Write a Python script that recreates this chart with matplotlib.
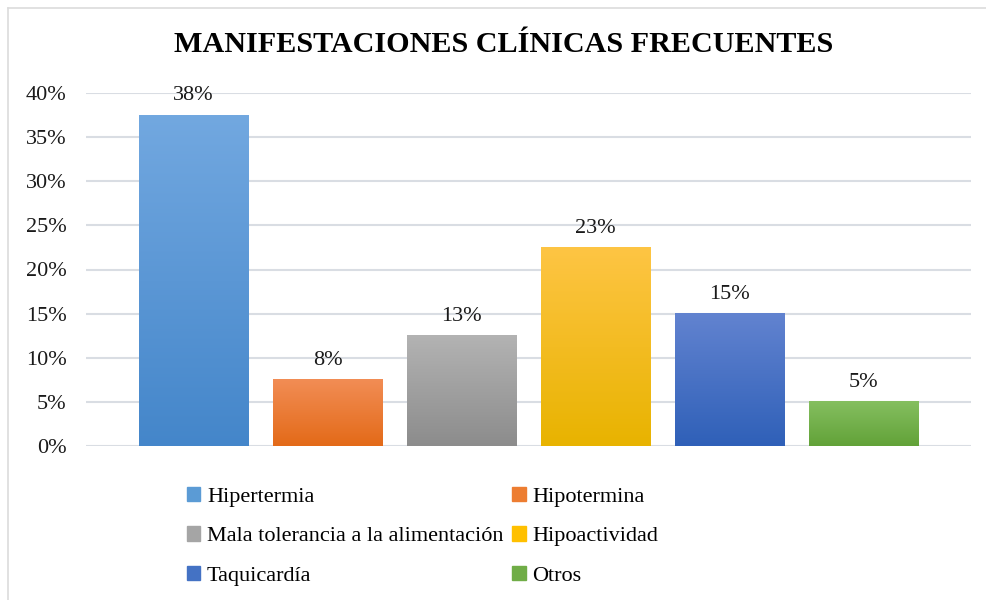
import numpy as np
import matplotlib
matplotlib.use('Agg')
import matplotlib.pyplot as plt
from matplotlib.patches import Rectangle
from matplotlib.lines import Line2D
from matplotlib.colors import LinearSegmentedColormap
from matplotlib.ticker import PercentFormatter

plt.rcParams['font.family'] = ['Liberation Serif', 'DejaVu Serif']

# data
categorias = ['Hipertermia', 'Hipotermina', 'Mala tolerancia a la alimentación',
              'Hipoactividad', 'Taquicardía', 'Otros']
valores = [0.375, 0.075, 0.125, 0.225, 0.15, 0.05]
etiquetas = ['38%', '8%', '13%', '23%', '15%', '5%']
# (top colour, bottom colour) for each bar gradient
colores = [('#72a8e0', '#4486ca'),
           ('#f28d55', '#e36a18'),
           ('#b3b3b3', '#8c8c8c'),
           ('#fec544', '#e8b300'),
           ('#6283d0', '#2f60b8'),
           ('#85bf60', '#62a238')]
colores_leyenda = ['#5b9bd5', '#ed7d31', '#a5a5a5', '#ffc000', '#4472c4', '#70ad47']

fig = plt.figure(figsize=(9.87, 6.0), dpi=100)
ax = fig.add_axes([86/987, 1 - 446/600, 885/987, 353/600])

# chart frame: only left and top edges are inside the picture
fx, fy = 8/987, 1 - 8/600
fig.lines.append(Line2D([fx, fx], [0, fy], transform=fig.transFigure, color='#dcdcdc', lw=1.2))
fig.lines.append(Line2D([fx, 1], [fy, fy], transform=fig.transFigure, color='#dcdcdc', lw=1.2))

ancho = 0.82
x = np.arange(len(valores))
grad = np.linspace(0, 1, 256).reshape(-1, 1)
for i, v in enumerate(valores):
    cmap = LinearSegmentedColormap.from_list('g%d' % i, [colores[i][1], colores[i][0]])
    ax.imshow(grad, cmap=cmap, origin='lower', aspect='auto', zorder=2,
              extent=[x[i] - ancho/2, x[i] + ancho/2, 0, v], interpolation='bilinear')
    ax.text(x[i], v + 0.011, etiquetas[i], ha='center', va='bottom', fontsize=16, color='#1a1a1a')

ax.set_xlim(-0.802, 5.802)
ax.set_ylim(0, 0.4)
ax.set_yticks(np.arange(0, 0.41, 0.05))
ax.yaxis.set_major_formatter(PercentFormatter(1.0, decimals=0))
ax.set_xticks([])
ax.grid(axis='y', color='#d9dde3', lw=1.5, zorder=0)
ax.set_axisbelow(True)
for s in ax.spines.values():
    s.set_visible(False)
ax.tick_params(axis='y', length=0, pad=14, labelsize=16, labelcolor='#1a1a1a')

fig.text(504/987, 1 - 45/600, 'MANIFESTACIONES CLÍNICAS FRECUENTES', ha='center', va='center',
         fontsize=21.7, fontweight='bold')

# legend, row-major order
handles = [Rectangle((0, 0), 1, 1, color=c) for c in colores_leyenda]
orden = [0, 2, 4, 1, 3, 5]
leg = fig.legend([handles[i] for i in orden], [categorias[i] for i in orden], ncol=2,
                 loc='upper left', bbox_to_anchor=(167/987, 1 - 467/600), frameon=False,
                 fontsize=16, handlelength=0.6, handleheight=0.6, handletextpad=0.3,
                 columnspacing=0.4, labelspacing=0.88)

fig.savefig('out.png', dpi=100)
